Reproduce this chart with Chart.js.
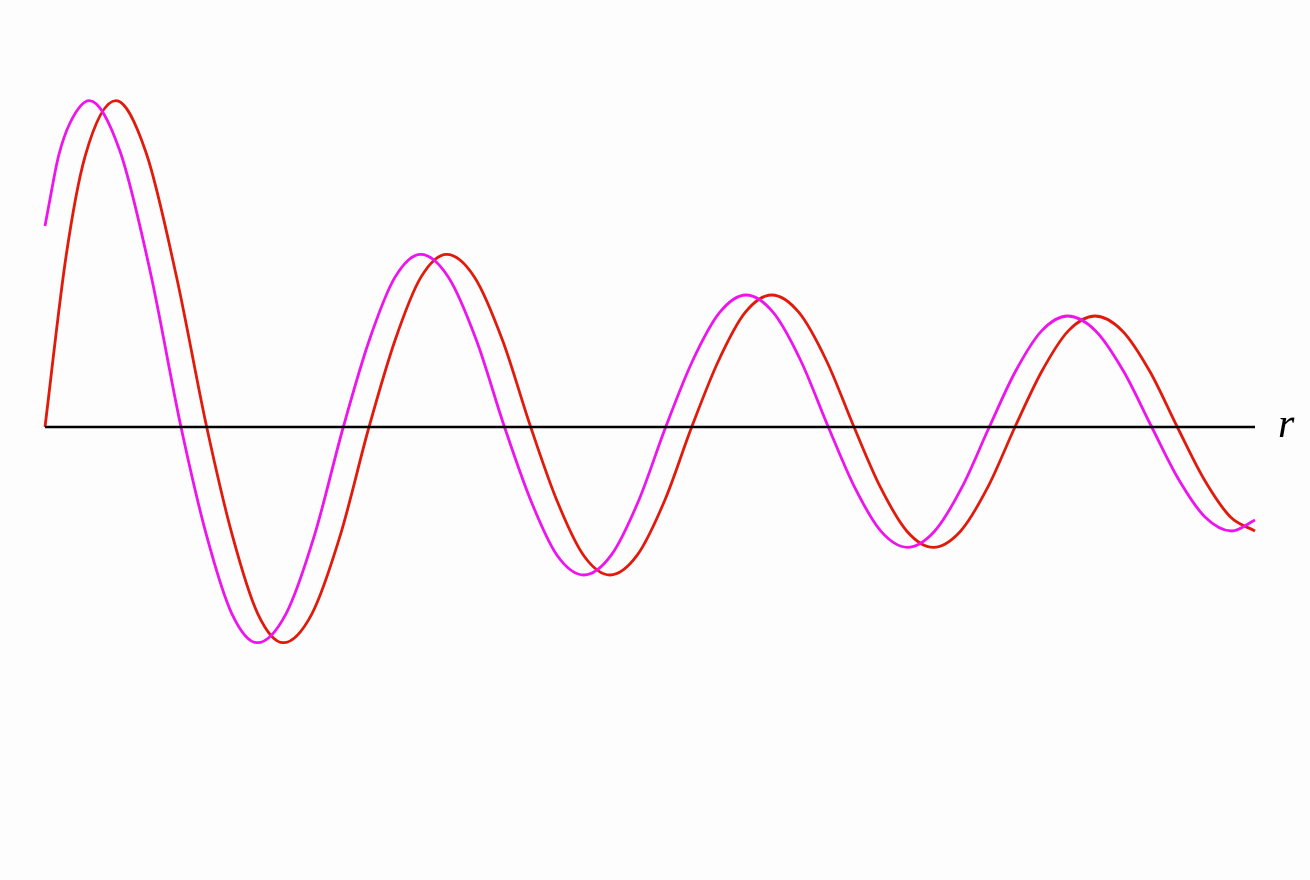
<!DOCTYPE html>
<html>
<head>
<meta charset="utf-8">
<script src="https://cdn.jsdelivr.net/npm/chart.js@4.4.1/dist/chart.umd.min.js"></script>
<style>
  body { margin: 0; background: #fdfdfd; }
  .wrap { position: relative; width: 1310px; height: 880px; }
  .rlabel { position: absolute; left: 1278px; top: 399px; font-family: "Liberation Serif", serif; font-style: italic; font-size: 42px; color: #000; }
</style>
</head>
<body>
<div class="wrap">
  <canvas id="graph" width="1310" height="880"></canvas>
  <span class="rlabel">r</span>
</div>
<script>
// magenta curve
var magX = [0, 0.067, 0.133, 0.25, 0.443, 0.749, 1.051, 1.36,
    1.614, 1.869, 2.123, 2.41, 2.696, 2.983,
    3.241, 3.499, 3.757, 4.036, 4.316, 4.595,
    4.86, 5.12, 5.39, 5.662, 5.935, 6.207,
    6.475, 6.745, 7.01, 7.284, 7.559, 7.833,
    8.096, 8.359, 8.623, 8.896, 9.17, 9.443,
    9.704, 9.966, 10.227, 10.507, 10.787, 11.067,
    11.334, 11.60, 11.867, 12.10];
var magY = [2.01, 2.37, 2.70, 3.04, 3.263, 2.76, 1.56, 0,
    -1.079, -1.868, -2.157, -1.868, -1.079, 0,
    0.863, 1.496, 1.727, 1.496, 0.863, 0,
    -0.74, -1.282, -1.48, -1.282, -0.74, 0,
    0.66, 1.143, 1.32, 1.143, 0.66, 0,
    -0.602, -1.042, -1.203, -1.042, -0.602, 0,
    0.555, 0.961, 1.11, 0.961, 0.555, 0,
    -0.52, -0.90, -1.04, -0.93];

// red curve
var redX = [0, 0.21, 0.40, 0.71, 1.012, 1.315, 1.617,
    1.872, 2.128, 2.383, 2.669, 2.954, 3.24,
    3.499, 3.758, 4.017, 4.297, 4.577, 4.857,
    5.121, 5.385, 5.65, 5.922, 6.195, 6.467,
    6.734, 7.00, 7.267, 7.541, 7.816, 8.09,
    8.354, 8.619, 8.883, 9.155, 9.428, 9.70,
    9.967, 10.233, 10.50, 10.774, 11.049, 11.323,
    11.589, 11.855, 12.10];
var redY = [0, 1.703, 2.703, 3.263, 2.74, 1.503, 0,
    -1.079, -1.868, -2.157, -1.868, -1.079, 0,
    0.863, 1.496, 1.727, 1.496, 0.863, 0,
    -0.74, -1.282, -1.48, -1.282, -0.74, 0,
    0.66, 1.143, 1.32, 1.143, 0.66, 0,
    -0.602, -1.042, -1.203, -1.042, -0.602, 0,
    0.555, 0.961, 1.11, 0.961, 0.555, 0,
    -0.52, -0.90, -1.04];

// the r axis
var axisX = [0, 12.10];
var axisY = [0, 0];

function pts(xs, ys) {
    return xs.map((x, i) => ({x: x, y: ys[i]}));
}

var graph = new Chart("graph", {
    type: "line",
    data: {
        datasets: [{
            data: pts(axisX, axisY),
            borderColor: "#000000",
            borderWidth: 2.5,
            pointRadius: 0
        },{
            data: pts(magX, magY),
            borderColor: "#ee14ee",
            borderWidth: 2.8,
            pointRadius: 0,
            cubicInterpolationMode: "monotone"
        },{
            data: pts(redX, redY),
            borderColor: "#e21a0c",
            borderWidth: 2.8,
            pointRadius: 0,
            cubicInterpolationMode: "monotone"
        }]
    },
    options: {
        responsive: false,
        animation: false,
        clip: false,
        layout: { padding: { left: 45, right: 55, top: 0, bottom: 0 } },
        scales: {
            x: { type: "linear", display: false, min: 0, max: 12.10 },
            y: { display: false, min: -4.53, max: 4.27 }
        },
        plugins: {
            legend: { display: false },
            tooltip: { enabled: false }
        }
    }
});
</script>
</body>
</html>
